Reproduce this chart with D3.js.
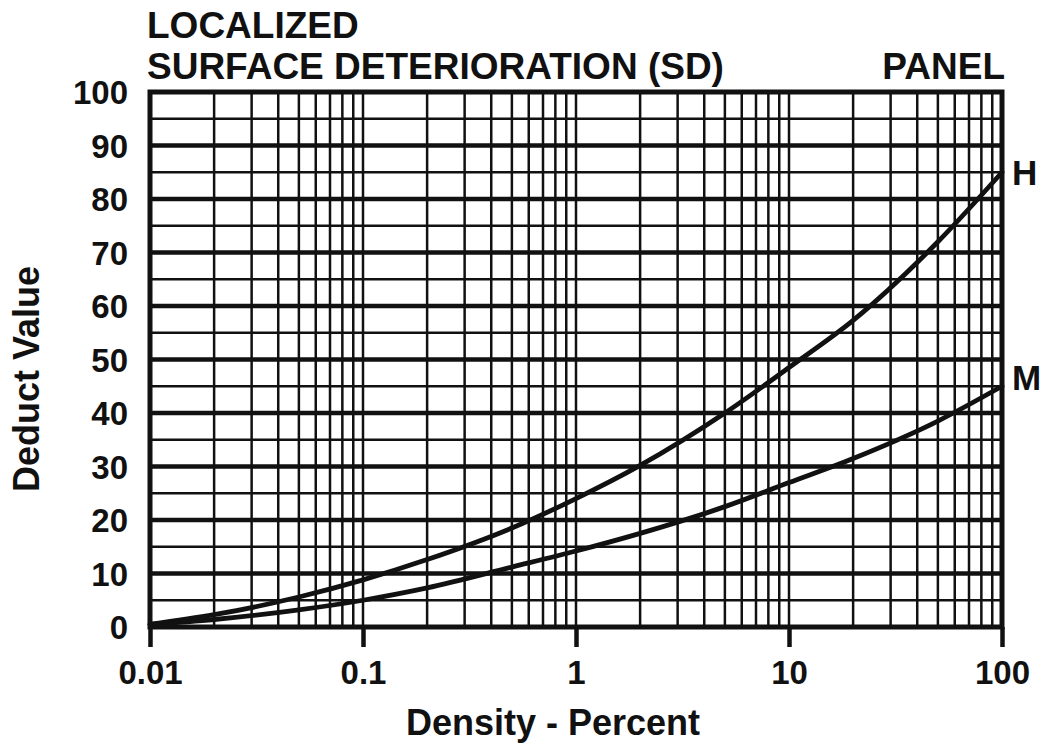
<!DOCTYPE html>
<html>
<head>
<meta charset="utf-8">
<script src="https://cdn.jsdelivr.net/npm/d3@7"></script>
<style>
  html, body { margin: 0; padding: 0; background: #fff; }
  text { font-family: "Liberation Sans", Arial, sans-serif; font-weight: bold; fill: #111; }
</style>
</head>
<body>
<svg id="chart" width="1044" height="748"></svg>
<script>
// ---- Data ----
const titleLines = ["LOCALIZED", "SURFACE DETERIORATION (SD)"];
const panelLabel = "PANEL";
const xTickValues = [0.01, 0.1, 1, 10, 100];
const xTickLabels = ["0.01", "0.1", "1", "10", "100"];
const yTickValues = [0, 10, 20, 30, 40, 50, 60, 70, 80, 90, 100];
const seriesNames = ["H", "M"];
const densities = [0.01, 0.02, 0.05, 0.1, 0.2, 0.5, 1, 2, 5, 10, 20, 50, 100];
const highValues = [0.5, 2.3, 5.6, 8.8, 12.6, 18.5, 24, 30.2, 40, 48.5, 57.3, 72, 85];
const mediumValues = [0.5, 1.4, 3.2, 5, 7.3, 11.2, 14.2, 17.5, 22.5, 27, 31.5, 38.5, 45];

// ---- Layout ----
const svg = d3.select("#chart");
const pLeft = 150, pRight = 1002, pTop = 92, pBottom = 627;
const x = d3.scaleLog().domain([0.01, 100]).range([pLeft, pRight]);
const y = d3.scaleLinear().domain([0, 100]).range([pBottom, pTop]);

// Minor vertical grid lines (2..9 x decade) and decades
const vLines = [];
for (let k = -2; k <= 1; k++) {
  for (let m = 1; m <= 9; m++) {
    const v = m * Math.pow(10, k);
    if (v > 0.01 && v < 100) vLines.push(v);
  }
}
svg.append("g").selectAll("line").data(vLines).join("line")
  .attr("x1", d => x(d)).attr("x2", d => x(d))
  .attr("y1", pTop).attr("y2", pBottom)
  .attr("stroke", "#111").attr("stroke-width", 2.5);

// Horizontal grid lines every 5
const hLines = d3.range(5, 100, 5);
svg.append("g").selectAll("line").data(hLines).join("line")
  .attr("x1", pLeft).attr("x2", pRight)
  .attr("y1", d => y(d)).attr("y2", d => y(d))
  .attr("stroke", "#111")
  .attr("stroke-width", d => d % 10 === 0 ? 4.4 : 2.5);

// Frame
svg.append("rect")
  .attr("x", pLeft).attr("y", pTop)
  .attr("width", pRight - pLeft).attr("height", pBottom - pTop)
  .attr("fill", "none").attr("stroke", "#111").attr("stroke-width", 5);

// X axis (decade ticks below frame)
const xAxis = d3.axisBottom(x)
  .tickValues(xTickValues)
  .tickFormat((d, i) => xTickLabels[i])
  .tickSize(20).tickPadding(14);
const gx = svg.append("g").attr("transform", `translate(0,${pBottom})`).call(xAxis);
gx.select(".domain").remove();
gx.selectAll(".tick line").attr("stroke", "#111").attr("stroke-width", 4.5);
gx.selectAll(".tick text").style("font-size", "33px").style("font-family", "Liberation Sans, Arial, sans-serif").style("font-weight", "bold").attr("fill", "#111");

// Y axis
const yAxis = d3.axisLeft(y)
  .tickValues(yTickValues)
  .tickSize(0).tickPadding(22);
const gy = svg.append("g").attr("transform", `translate(${pLeft},0)`).call(yAxis);
gy.select(".domain").remove();
gy.selectAll(".tick text").style("font-size", "33px").style("font-family", "Liberation Sans, Arial, sans-serif").style("font-weight", "bold").attr("fill", "#111").attr("dy", "0.35em");

// Curves
const line = d3.line()
  .x(d => x(d[0])).y(d => y(d[1]))
  .curve(d3.curveMonotoneX);
const seriesData = [
  densities.map((d, i) => [d, highValues[i]]),
  densities.map((d, i) => [d, mediumValues[i]])
];
svg.append("g").selectAll("path").data(seriesData).join("path")
  .attr("d", line)
  .attr("fill", "none").attr("stroke", "#111")
  .attr("stroke-width", 4.8).attr("stroke-linecap", "round");

// Series labels
const labelShift = [0, -9];
svg.append("g").selectAll("text").data(seriesNames).join("text")
  .attr("x", 1012)
  .attr("y", (d, i) => y(seriesData[i][seriesData[i].length - 1][1]) + labelShift[i])
  .attr("dy", "0.36em")
  .style("font-size", "35px")
  .text(d => d);

// Titles
svg.append("g").selectAll("text").data(titleLines).join("text")
  .attr("x", 147).attr("y", (d, i) => 38 + i * 41)
  .style("font-size", "37px")
  .text(d => d);
svg.append("text")
  .attr("x", 1005).attr("y", 79)
  .attr("text-anchor", "end")
  .style("font-size", "37px")
  .text(panelLabel);

// Axis titles
svg.append("text")
  .attr("x", 553).attr("y", 735)
  .attr("text-anchor", "middle")
  .style("font-size", "36px")
  .text("Density - Percent");
svg.append("text")
  .attr("transform", "translate(39,379) rotate(-90)")
  .attr("text-anchor", "middle")
  .style("font-size", "36px")
  .text("Deduct Value");
</script>
</body>
</html>
